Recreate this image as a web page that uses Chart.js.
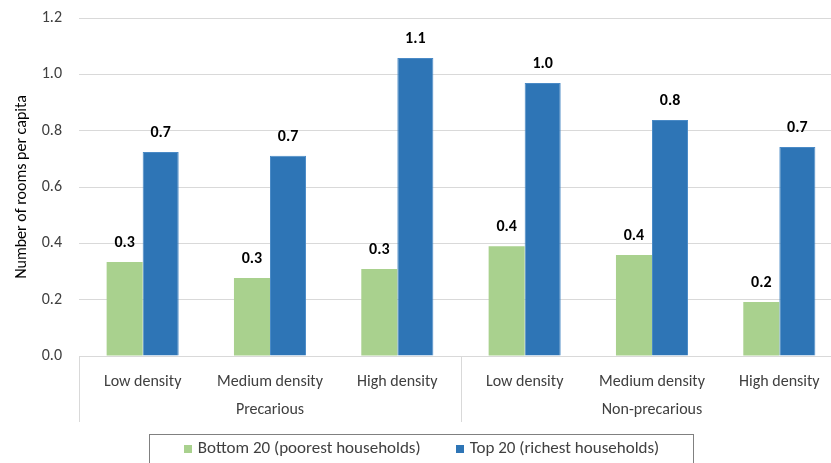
<!DOCTYPE html>
<html>
<head>
<meta charset="utf-8">
<title>Rooms per capita by settlement density</title>
<script src="https://cdn.jsdelivr.net/npm/chart.js@4/dist/chart.umd.min.js"></script>
<style>
  html, body { margin: 0; padding: 0; background: #fff; overflow: hidden; width: 831px; height: 463px; }
  canvas { display: block; }
</style>
</head>
<body>
<canvas id="chart" width="843" height="463"></canvas>
<script>
// Density classes along the x axis, grouped by settlement type
const densityLabels = ['Low density', 'Medium density', 'High density', 'Low density', 'Medium density', 'High density'];
const settlementGroups = ['Precarious', 'Non-precarious'];
const groupSize = 3;

// Rooms per capita by income quintile
const bottom20 = [0.334, 0.277, 0.309, 0.390, 0.359, 0.192];
const top20 = [0.724, 0.711, 1.058, 0.969, 0.838, 0.742];

const seriesNames = ['Bottom 20 (poorest households)', 'Top 20 (richest households)'];
const seriesColors = ['#A9D18E', '#2E75B6'];

const yMin = 0, yMax = 1.2, yStep = 0.2;

const FONT = 'Carlito, Calibri, Lato, sans-serif';
const FONT_SIZE = 16;
const textColor = '#404040';
const gridColor = '#d9d9d9';

// Bold value labels above each bar
const valueLabels = {
  id: 'valueLabels',
  afterDatasetsDraw(chart) {
    const ctx = chart.ctx;
    ctx.save();
    ctx.font = 'bold 16px ' + FONT;
    ctx.fillStyle = '#000';
    ctx.textAlign = 'center';
    ctx.textBaseline = 'middle';
    chart.data.datasets.forEach((ds, i) => {
      chart.getDatasetMeta(i).data.forEach((bar, j) => {
        ctx.fillText(ds.data[j].toFixed(1), bar.x, bar.y - 19);
      });
    });
    ctx.restore();
  }
};

// Group captions, separators under the category axis, and a boxed legend
const groupAxis = {
  id: 'groupAxis',
  afterDraw(chart) {
    const ctx = chart.ctx;
    const xs = chart.scales.x;
    const area = chart.chartArea;
    const step = xs.getPixelForValue(1) - xs.getPixelForValue(0);
    const sepBottom = area.bottom + 66;
    ctx.save();
    ctx.strokeStyle = gridColor;
    ctx.lineWidth = 1;
    for (let g = 0; g <= settlementGroups.length; g++) {
      const x = Math.round(xs.getPixelForValue(g * groupSize) - step / 2) + 0.5;
      ctx.beginPath();
      ctx.moveTo(x, area.bottom);
      ctx.lineTo(x, sepBottom);
      ctx.stroke();
    }
    ctx.font = FONT_SIZE + 'px ' + FONT;
    ctx.fillStyle = textColor;
    ctx.textAlign = 'center';
    ctx.textBaseline = 'middle';
    settlementGroups.forEach((name, g) => {
      const cx = xs.getPixelForValue(g * groupSize + (groupSize - 1) / 2);
      ctx.fillText(name, cx, area.bottom + 54);
    });

    // legend
    const boxLeft = 149.5, boxRight = 693.5, boxTop = 434.5;
    ctx.strokeStyle = '#808080';
    ctx.strokeRect(boxLeft, boxTop, boxRight - boxLeft, 60);
    ctx.font = '17px ' + FONT;
    const sw = 8, gap = 6, itemGap = 35;
    const widths = seriesNames.map(t => sw + gap + ctx.measureText(t).width);
    const total = widths.reduce((a, b) => a + b, 0) + itemGap * (seriesNames.length - 1);
    let x = (boxLeft + boxRight) / 2 - total / 2;
    const ly = 449;
    ctx.textAlign = 'left';
    seriesNames.forEach((name, i) => {
      ctx.fillStyle = seriesColors[i];
      ctx.fillRect(Math.round(x), ly - 4, sw, sw);
      ctx.fillStyle = textColor;
      ctx.fillText(name, x + sw + gap, ly);
      x += widths[i] + itemGap;
    });
    ctx.restore();
  }
};

new Chart(document.getElementById('chart'), {
  type: 'bar',
  data: {
    labels: densityLabels,
    datasets: [
      { label: seriesNames[0], data: bottom20, backgroundColor: seriesColors[0], borderWidth: 0 },
      { label: seriesNames[1], data: top20, backgroundColor: seriesColors[1], borderColor: '#4a8ac6', borderWidth: 1 }
    ]
  },
  options: {
    responsive: false,
    animation: false,
    events: [],
    layout: { padding: { top: 18, left: 0, right: 0, bottom: 0 } },
    datasets: { bar: { barPercentage: 1, categoryPercentage: 0.566 } },
    plugins: { legend: { display: false }, tooltip: { enabled: false } },
    scales: {
      x: {
        grid: { display: false },
        border: { display: true, color: gridColor },
        ticks: { font: { family: FONT, size: FONT_SIZE }, color: textColor, padding: 8, maxRotation: 0, autoSkip: false },
        afterFit(scale) { scale.height = 107; }
      },
      y: {
        min: yMin,
        max: yMax,
        ticks: {
          stepSize: yStep,
          padding: 17,
          font: { family: FONT, size: FONT_SIZE },
          color: textColor,
          callback: v => Number(v).toFixed(1)
        },
        grid: { color: gridColor, drawTicks: false },
        border: { display: false },
        title: {
          display: true,
          text: 'Number of rooms per capita',
          font: { family: FONT, size: FONT_SIZE },
          color: '#000',
          padding: { top: 12, bottom: 0 }
        },
        afterFit(scale) {
          scale.width = 79;
          scale.paddingTop = 0;
          scale.paddingBottom = 0;
        }
      }
    }
  },
  plugins: [valueLabels, groupAxis]
});
</script>
</body>
</html>
